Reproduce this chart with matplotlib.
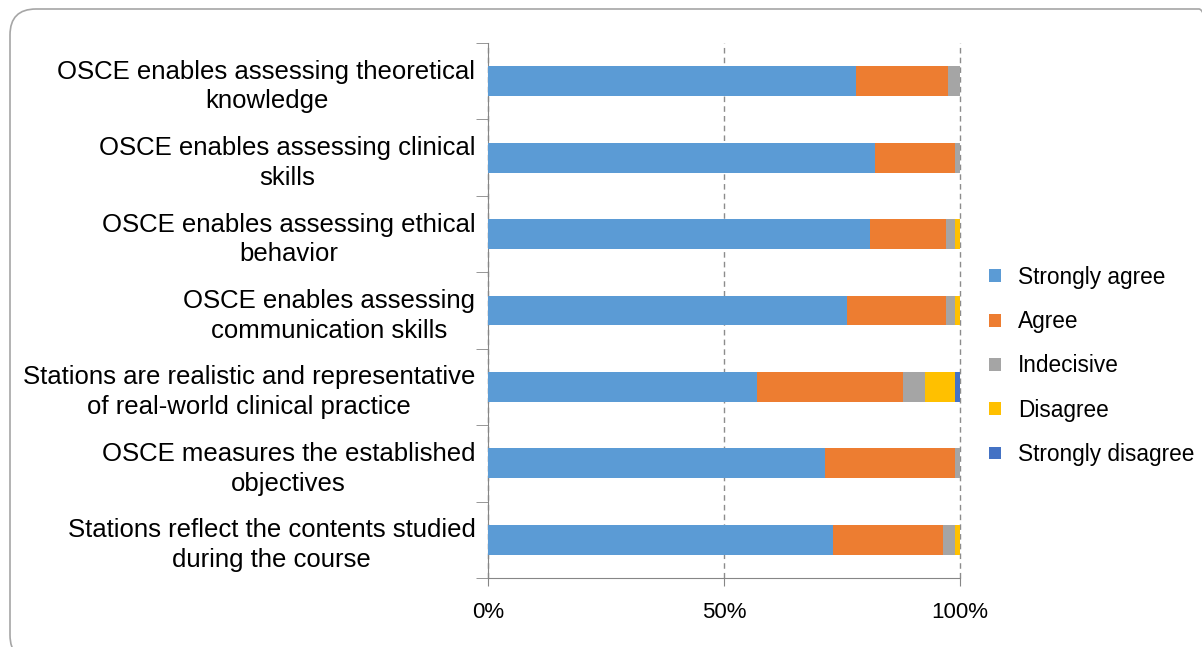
import matplotlib
matplotlib.use("Agg")
import matplotlib.pyplot as plt
import numpy as np
from matplotlib.patches import FancyBboxPatch
from matplotlib.transforms import IdentityTransform

plt.rcParams['font.family'] = ['Liberation Sans', 'DejaVu Sans']

# data, top to bottom
statements = [
    "OSCE enables assessing theoretical\nknowledge",
    "OSCE enables assessing clinical\nskills",
    "OSCE enables assessing ethical\nbehavior",
    "OSCE enables assessing\ncommunication skills",
    "Stations are realistic and representative\nof real-world clinical practice",
    "OSCE measures the established\nobjectives",
    "Stations reflect the contents studied\nduring the course",
]
strongly_agree = [78, 82, 81, 76, 57, 71.5, 73]
agree = [19.5, 17, 16, 21, 31, 27.5, 23.5]
indecisive = [2.5, 1, 2, 2, 4.5, 1, 2.5]
disagree = [0, 0, 1, 1, 6.5, 0, 1]
strongly_disagree = [0, 0, 0, 0, 1, 0, 0]

series_names = ["Strongly agree", "Agree", "Indecisive", "Disagree", "Strongly disagree"]
series_colors = ["#5B9BD5", "#ED7D31", "#A5A5A5", "#FFC000", "#4472C4"]
x_ticks = [0, 50, 100]
x_ticklabels = ["0%", "50%", "100%"]

W, H = 1202, 647
fig = plt.figure(figsize=(W / 100, H / 100), dpi=100)

# rounded frame around the chart (pixel units)
frame = FancyBboxPatch((10, -14), 1215, 652,
                       boxstyle="round,pad=0,rounding_size=26",
                       transform=IdentityTransform(), facecolor="none",
                       edgecolor="#A6A6A6", linewidth=1.2, zorder=-1)
fig.patches.append(frame)

ax = fig.add_axes([488 / W, 1 - 578 / H, (960 - 488) / W, (578 - 43) / H])
ax.set_facecolor("none")

y = np.arange(len(statements))
data = [strongly_agree, agree, indecisive, disagree, strongly_disagree]
left = np.zeros(len(statements))
for vals, name, col in zip(data, series_names, series_colors):
    vals = np.array(vals, dtype=float)
    ax.barh(y, vals, left=left, height=0.39, color=col, label=name, zorder=3)
    left += vals

ax.set_xlim(0, 100)
ax.set_ylim(len(statements) - 0.5, -0.5)

ax.set_xticks(x_ticks)
ax.set_xticklabels(x_ticklabels, fontsize=16)
ax.tick_params(axis='x', length=6, color="#868686", pad=11)

ax.set_yticks(y)
ax.set_yticklabels(statements, fontsize=18.5, multialignment='center', linespacing=1.3)
ax.tick_params(axis='y', which='major', length=0, pad=9)
ax.set_yticks(np.arange(len(statements) + 1) - 0.5, minor=True)
ax.tick_params(axis='y', which='minor', length=9, color="#868686")

ax.xaxis.grid(True, linestyle=(0, (4, 3)), color="#8C8C8C", linewidth=1, zorder=0)
for gl in ax.get_xgridlines():
    gl.set_clip_on(False)
ax.set_axisbelow(True)

for s in ["top", "right"]:
    ax.spines[s].set_visible(False)
for s in ["left", "bottom"]:
    ax.spines[s].set_color("#868686")

fig.legend(loc="center left", bbox_to_anchor=(969 / W, 1 - 366 / H),
           frameon=False, fontsize=16.3, handlelength=0.5, handleheight=0.5,
           handletextpad=0.75, labelspacing=0.94)

fig.savefig("out.png", dpi=100)
